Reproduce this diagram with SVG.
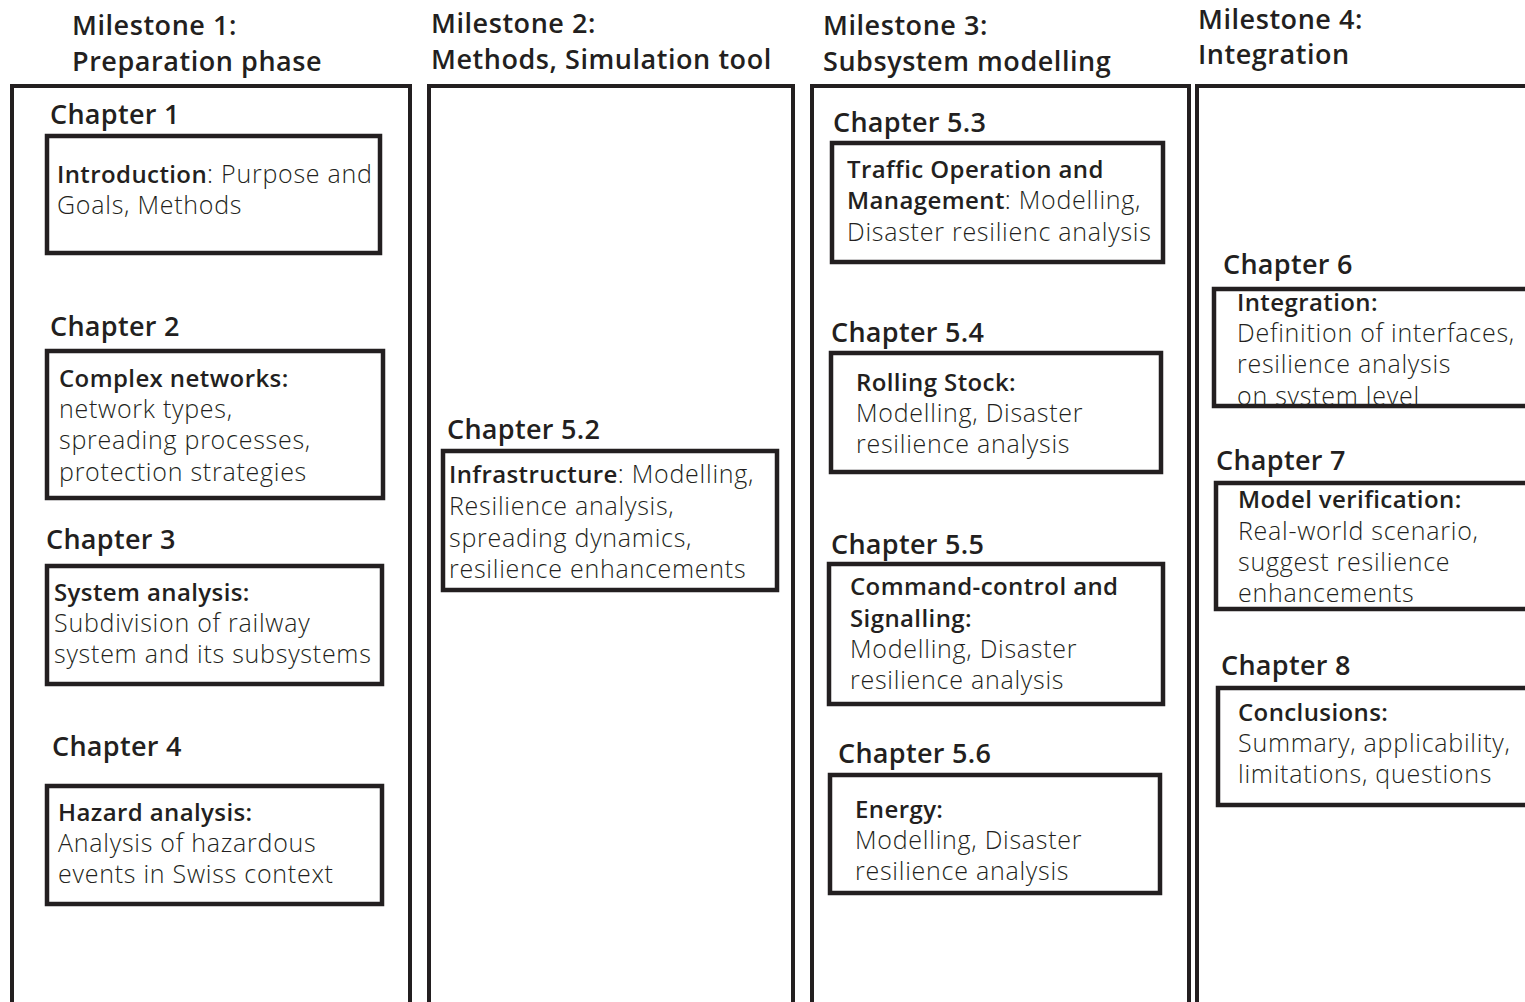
<svg xmlns="http://www.w3.org/2000/svg" width="1525" height="1002" viewBox="0 0 1525 1002">
<style>
.col{fill:none;stroke:#231f20;stroke-width:4}
.box{fill:none;stroke:#231f20;stroke-width:4.5}
text{font-family:"Open Sans","Noto Sans","DejaVu Sans",sans-serif;fill:#231f20}
.ms{font-size:27px;font-weight:600;letter-spacing:0.55px}
.ch{font-size:27px;font-weight:600;letter-spacing:0.3px}
.t{font-size:25px;font-weight:300;letter-spacing:0.75px}
.b{font-size:24px;font-weight:600;letter-spacing:0.4px}
</style>
<defs>
<clipPath id="c6"><rect x="1214" y="289" width="320" height="116"/></clipPath>
</defs>
<rect width="1525" height="1002" fill="#fff"/>
<g id="connectors"></g>

<g id="milestone1">
<rect class="col" x="12" y="86" width="398" height="930"/>
<text class="ms" x="72" y="35">Milestone 1:</text>
<text class="ms" x="72" y="71">Preparation phase</text>
</g>
<g id="chapter1">
<text class="ch" x="50" y="124">Chapter 1</text>
<rect class="box" x="47" y="136" width="333" height="117"/>
<text class="t" x="57" y="183"><tspan class="b">Introduction</tspan>: Purpose and</text>
<text class="t" x="57" y="214">Goals, Methods</text>
</g>
<g id="chapter2">
<text class="ch" x="50" y="336">Chapter 2</text>
<rect class="box" x="47" y="351" width="336" height="147"/>
<text class="t" x="59" y="387"><tspan class="b">Complex networks:</tspan></text>
<text class="t" x="59" y="418">network types,</text>
<text class="t" x="59" y="449">spreading processes,</text>
<text class="t" x="59" y="481">protection strategies</text>
</g>
<g id="chapter3">
<text class="ch" x="46" y="549">Chapter 3</text>
<rect class="box" x="47" y="566" width="335" height="118"/>
<text class="t" x="54" y="601"><tspan class="b">System analysis:</tspan></text>
<text class="t" x="54" y="632">Subdivision of railway</text>
<text class="t" x="54" y="663">system and its subsystems</text>
</g>
<g id="chapter4">
<text class="ch" x="52" y="756">Chapter 4</text>
<rect class="box" x="47" y="786" width="335" height="118"/>
<text class="t" x="58" y="821"><tspan class="b">Hazard analysis:</tspan></text>
<text class="t" x="58" y="852">Analysis of hazardous</text>
<text class="t" x="58" y="883">events in Swiss context</text>
</g>

<g id="milestone2">
<rect class="col" x="429" y="86" width="364" height="930"/>
<text class="ms" x="431" y="33">Milestone 2:</text>
<text class="ms" x="431" y="69">Methods, Simulation tool</text>
</g>
<g id="chapter52">
<text class="ch" x="447" y="439">Chapter 5.2</text>
<rect class="box" x="443" y="451" width="334" height="139"/>
<text class="t" x="449" y="483"><tspan class="b">Infrastructure</tspan>: Modelling,</text>
<text class="t" x="449" y="515">Resilience analysis,</text>
<text class="t" x="449" y="547">spreading dynamics,</text>
<text class="t" x="449" y="578">resilience enhancements</text>
</g>

<g id="milestone3">
<rect class="col" x="812" y="86" width="377" height="930"/>
<text class="ms" x="823" y="35">Milestone 3:</text>
<text class="ms" x="823" y="71">Subsystem modelling</text>
</g>
<g id="chapter53">
<text class="ch" x="833" y="132">Chapter 5.3</text>
<rect class="box" x="832" y="143" width="331" height="119"/>
<text class="t" x="847" y="178"><tspan class="b">Traffic Operation and</tspan></text>
<text class="t" x="847" y="209"><tspan class="b">Management</tspan>: Modelling,</text>
<text class="t" x="847" y="241">Disaster resilienc analysis</text>
</g>
<g id="chapter54">
<text class="ch" x="831" y="342">Chapter 5.4</text>
<rect class="box" x="831" y="353" width="330" height="119"/>
<text class="t" x="856" y="391"><tspan class="b">Rolling Stock:</tspan></text>
<text class="t" x="856" y="422">Modelling, Disaster</text>
<text class="t" x="856" y="453">resilience analysis</text>
</g>
<g id="chapter55">
<text class="ch" x="831" y="554">Chapter 5.5</text>
<rect class="box" x="829" y="564" width="334" height="140"/>
<text class="t" x="850" y="595"><tspan class="b">Command-control and</tspan></text>
<text class="t" x="850" y="627"><tspan class="b">Signalling:</tspan></text>
<text class="t" x="850" y="658">Modelling, Disaster</text>
<text class="t" x="850" y="689">resilience analysis</text>
</g>
<g id="chapter56">
<text class="ch" x="838" y="763">Chapter 5.6</text>
<rect class="box" x="830" y="775" width="330" height="118"/>
<text class="t" x="855" y="818"><tspan class="b">Energy:</tspan></text>
<text class="t" x="855" y="849">Modelling, Disaster</text>
<text class="t" x="855" y="880">resilience analysis</text>
</g>

<g id="milestone4">
<rect class="col" x="1197" y="86" width="400" height="930"/>
<text class="ms" x="1198" y="29">Milestone 4:</text>
<text class="ms" x="1198" y="64">Integration</text>
</g>
<g id="chapter6">
<text class="ch" x="1223" y="274">Chapter 6</text>
<g clip-path="url(#c6)">
<text class="t" x="1237" y="311"><tspan class="b">Integration:</tspan></text>
<text class="t" x="1237" y="342">Definition of interfaces,</text>
<text class="t" x="1237" y="373">resilience analysis</text>
<text class="t" x="1237" y="405">on system level</text>
</g>
<rect class="box" x="1214" y="289" width="330" height="117"/>
</g>
<g id="chapter7">
<text class="ch" x="1216" y="470">Chapter 7</text>
<rect class="box" x="1216" y="483" width="330" height="126"/>
<text class="t" x="1238" y="508"><tspan class="b">Model verification:</tspan></text>
<text class="t" x="1238" y="540">Real-world scenario,</text>
<text class="t" x="1238" y="571">suggest resilience</text>
<text class="t" x="1238" y="602">enhancements</text>
</g>
<g id="chapter8">
<text class="ch" x="1221" y="675">Chapter 8</text>
<rect class="box" x="1218" y="688" width="330" height="117"/>
<text class="t" x="1238" y="721"><tspan class="b">Conclusions:</tspan></text>
<text class="t" x="1238" y="752">Summary, applicability,</text>
<text class="t" x="1238" y="783">limitations, questions</text>
</g>
</svg>
